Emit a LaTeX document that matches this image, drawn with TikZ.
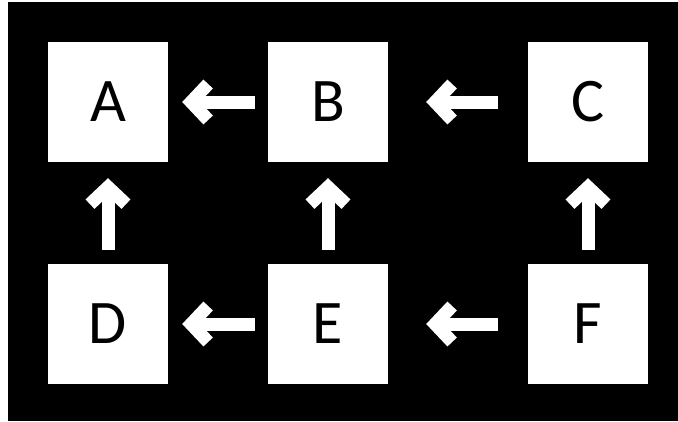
\documentclass[tikz,border=0pt]{standalone}
\usepackage{fontspec}
\setmainfont{Carlito}
\usetikzlibrary{arrows.meta}
\begin{document}
\begin{tikzpicture}[x=1pt, y=-1pt]
\tikzset{arr/.style={draw=white, line width=13pt, line join=miter, -{Straight Barb[length=17pt,width=36pt]}}}
\fill[white] (0,0) rectangle (678,421);
\fill[black] (8,2) rectangle (678,421);
\tikzstyle{every node} = [fill=white, text=black, minimum size=120pt, inner sep=0pt, font=\fontsize{62}{62}\selectfont]
\node (A) at (108,102) {A};
\node (B) at (328,102) {B};
\node (C) at (588,102) {C};
\node (D) at (108,324) {D};
\node (E) at (328,324) {E};
\node (F) at (588,324) {F};
\tikzstyle{every node} = []
\draw[arr, shorten >=14pt, shorten <=13pt] (B) -- (A);
\draw[arr, shorten >=38pt, shorten <=30pt] (C) -- (B);
\draw[arr, shorten >=14pt, shorten <=13pt] (E) -- (D);
\draw[arr, shorten >=38pt, shorten <=30pt] (F) -- (E);
\draw[arr, shorten >=16pt, shorten <=14pt] (D) -- (A);
\draw[arr, shorten >=16pt, shorten <=14pt] (E) -- (B);
\draw[arr, shorten >=16pt, shorten <=14pt] (F) -- (C);
\end{tikzpicture}
\end{document}
